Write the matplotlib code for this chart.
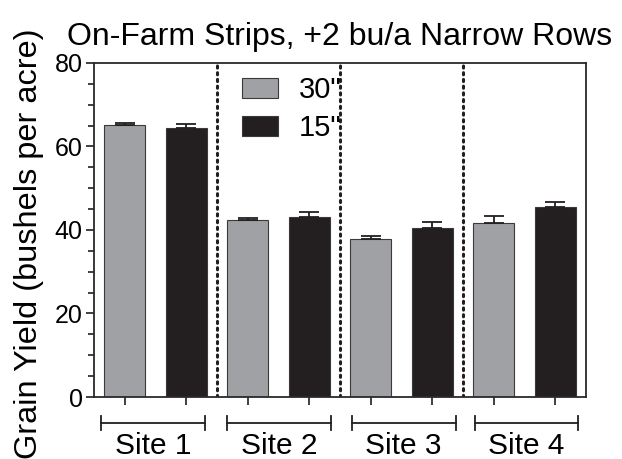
import matplotlib
matplotlib.use("Agg")
import matplotlib.pyplot as plt
import matplotlib.transforms as mtransforms
from matplotlib.ticker import MultipleLocator

plt.rcParams['font.family'] = ['Liberation Sans', 'DejaVu Sans']

sites = ["Site 1", "Site 2", "Site 3", "Site 4"]
yield_30 = [65.1, 42.4, 37.8, 41.7]
err_30 = [0.5, 0.5, 0.8, 1.7]
yield_15 = [64.4, 43.2, 40.5, 45.6]
err_15 = [1.0, 1.0, 1.3, 1.2]

gray = "#a0a1a5"
black = "#231f20"

fig = plt.figure(figsize=(6.22, 4.59), dpi=100)
ax = fig.add_axes([0.151, 0.135, 0.791, 0.728])

x30 = [2 * i for i in range(len(sites))]
x15 = [2 * i + 1 for i in range(len(sites))]
w = 0.67

ax.bar(x30, yield_30, width=w, color=gray, edgecolor="#3a3a3a", linewidth=0.8,
       yerr=[[0] * 4, err_30], capsize=7, error_kw=dict(elinewidth=1.3, capthick=1.3, ecolor=black),
       label='30"', zorder=2)
ax.bar(x15, yield_15, width=w, color=black, edgecolor="#3a3a3a", linewidth=0.8,
       yerr=[[0] * 4, err_15], capsize=7, error_kw=dict(elinewidth=1.3, capthick=1.3, ecolor=black),
       label='15"', zorder=2)

for xs in [1.5, 3.5, 5.5]:
    ax.axvline(xs, color=black, lw=2.2, ls=(0, (0.7, 1.5)), dash_capstyle="round", zorder=1)

ax.set_xlim(-0.5, 7.5)
ax.set_ylim(0, 80)
ax.yaxis.set_major_locator(MultipleLocator(20))
ax.yaxis.set_minor_locator(MultipleLocator(5))
ax.set_xticks(x30 + x15)
ax.set_xticklabels([])
ax.tick_params(axis="both", which="major", direction="out", length=6, width=1.2, labelsize=18, color=black, pad=2)
ax.tick_params(axis="y", which="minor", direction="out", length=4, width=1.2, color=black)
for sp in ax.spines.values():
    sp.set_linewidth(1.3)
    sp.set_color("#2a2a2a")

fig.text(0.047, 0.47, "Grain Yield (bushels per acre)", rotation=90, fontsize=23.4,
         ha="center", va="center")
ax.set_title("On-Farm Strips, +2 bu/a Narrow Rows", fontsize=23, pad=13)

# site brackets under the axis
trans = mtransforms.blended_transform_factory(ax.transData, ax.transAxes)
spans = [(-0.38, 1.30), (1.67, 3.36), (3.69, 5.38), (5.70, 7.37)]
for (a, b), name in zip(spans, sites):
    ax.plot([a, b], [-0.078, -0.078], color=black, lw=1.3, transform=trans, clip_on=False)
    for e in (a, b):
        ax.plot([e, e], [-0.056, -0.1], color=black, lw=1.3, transform=trans, clip_on=False)
    ax.text((a + b) / 2, -0.148, name, transform=trans, ha="center", va="center", fontsize=21.5)

ax.legend(loc="upper left", bbox_to_anchor=(0.259, 1.022), frameon=False, fontsize=21,
          handlelength=1.25, handleheight=0.7, handletextpad=0.7, labelspacing=0.35,
          borderaxespad=0.3)

fig.savefig("out.png", dpi=100)
